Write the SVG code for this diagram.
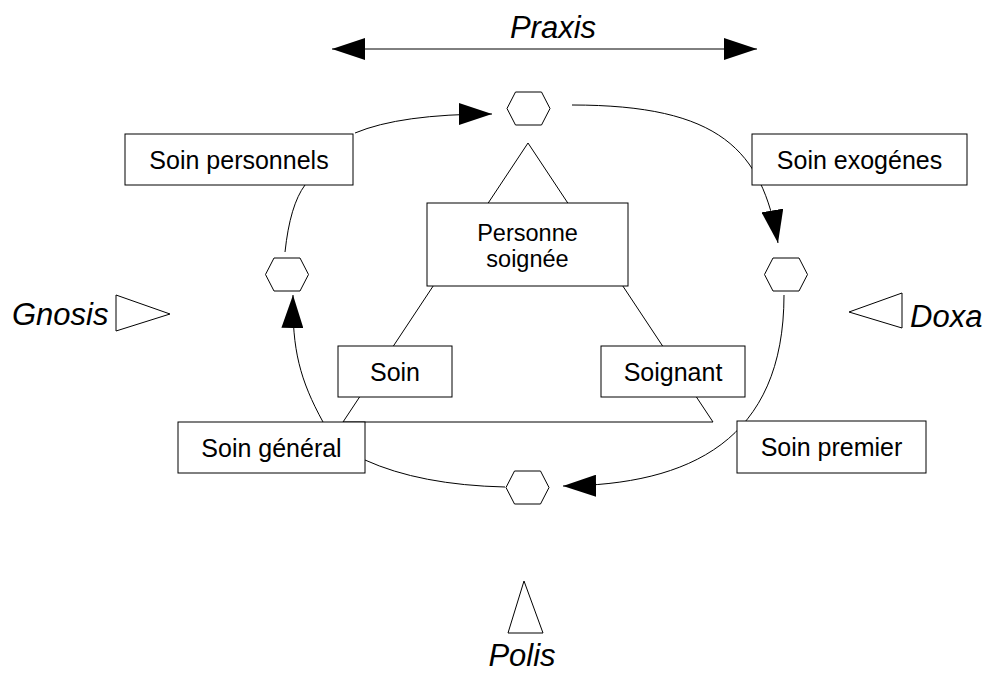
<svg xmlns="http://www.w3.org/2000/svg" width="985" height="673" viewBox="0 0 985 673">
<style>
.box{fill:#fff;stroke:#000;stroke-width:1}
.lbl{font-family:"Liberation Sans",Arial,sans-serif;font-size:25px;fill:#000;text-anchor:middle}
.lbl2{font-family:"Liberation Sans",Arial,sans-serif;font-size:23.5px;fill:#000;text-anchor:middle}
.big{font-family:"Liberation Sans",Arial,sans-serif;font-size:31px;font-style:italic;fill:#000}
.ln{fill:none;stroke:#000;stroke-width:1}
.hex{fill:#fff;stroke:#000;stroke-width:1}
.tri{fill:#fff;stroke:#000;stroke-width:1}
</style>
<defs>
<marker id="arr" markerUnits="userSpaceOnUse" viewBox="0 0 33 22" markerWidth="33" markerHeight="22" refX="33" refY="11" orient="auto-start-reverse">
<path d="M0,0 L33,11 L0,22 z" fill="#000"/>
</marker>
<polygon id="hexshape" points="-21.5,0 -13,-16.5 13,-16.5 21.5,0 13,16.5 -13,16.5"/>
</defs>
<rect width="985" height="673" fill="#fff"/>

<g id="praxis">
<line class="ln" x1="332" y1="49" x2="757" y2="49" marker-start="url(#arr)" marker-end="url(#arr)"/>
<text class="big" x="553" y="38" text-anchor="middle">Praxis</text>
</g>

<g id="gnosis">
<text class="big" x="12" y="325">Gnosis</text>
<polygon class="tri" points="116,295 170,314 116,331"/>
</g>
<g id="doxa">
<polygon class="tri" points="849,312 902,293 902,328"/>
<text class="big" x="910" y="327">Doxa</text>
</g>
<g id="polis">
<polygon class="tri" points="524,581 543,633 508,633"/>
<text class="big" x="522" y="666" text-anchor="middle">Polis</text>
</g>

<g id="triangle">
<polygon class="ln" points="528,143 343,422 713,422"/>
</g>

<g id="connectors">
<path class="ln" d="M355,133 Q400,114 492,114" marker-end="url(#arr)"/>
<path class="ln" d="M572,105 C720,105 762,150 778,243" marker-end="url(#arr)"/>
<path class="ln" d="M784,295 C784,440 690,485 563,486" marker-end="url(#arr)"/>
<path class="ln" d="M365,460 Q420,485 505,487"/>
<path class="ln" d="M323,422 C300,380 292,350 293,295" marker-end="url(#arr)"/>
<path class="ln" d="M285,252 Q290,205 305,185"/>
</g>

<g id="hex-top"><use href="#hexshape" class="hex" x="528.5" y="108.5"/></g>
<g id="hex-left"><use href="#hexshape" class="hex" x="287" y="274.5"/></g>
<g id="hex-right"><use href="#hexshape" class="hex" x="786" y="274.5"/></g>
<g id="hex-bottom"><use href="#hexshape" class="hex" x="527.5" y="487.5"/></g>

<g id="soin-personnels">
<rect class="box" x="125" y="134" width="228" height="51"/>
<text class="lbl" x="239" y="169">Soin personnels</text>
</g>
<g id="soin-exogenes">
<rect class="box" x="752" y="134" width="215" height="51"/>
<text class="lbl" x="859.5" y="169">Soin exogénes</text>
</g>
<g id="personne-soignee">
<rect class="box" x="427" y="203" width="201" height="83"/>
<text class="lbl2" x="527.5" y="241">Personne</text>
<text class="lbl2" x="527.5" y="267">soignée</text>
</g>
<g id="soin">
<rect class="box" x="338" y="346" width="114" height="51"/>
<text class="lbl" x="395" y="381">Soin</text>
</g>
<g id="soignant">
<rect class="box" x="601" y="346" width="144" height="51"/>
<text class="lbl" x="673" y="381">Soignant</text>
</g>
<g id="soin-general">
<rect class="box" x="178" y="422" width="187" height="51"/>
<text class="lbl" x="271.5" y="457">Soin général</text>
</g>
<g id="soin-premier">
<rect class="box" x="737" y="421" width="189" height="52"/>
<text class="lbl" x="831.5" y="456">Soin premier</text>
</g>
</svg>
